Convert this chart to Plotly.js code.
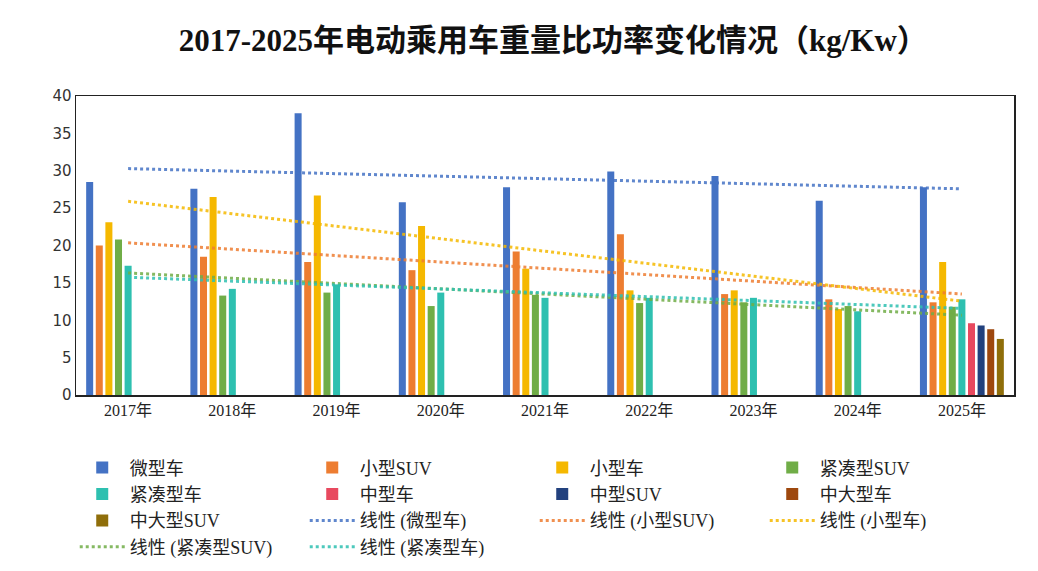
<!DOCTYPE html>
<html>
<head>
<meta charset="utf-8">
<script src="https://cdn.plot.ly/plotly-3.0.1.min.js"></script>
<style>
  html, body { margin: 0; padding: 0; background: #fff; }
  #chart { width: 1038px; height: 571px; }
</style>
</head>
<body>
<div id="chart"></div>
<script>
// Years on the category axis
const years = ['2017年', '2018年', '2019年', '2020年', '2021年', '2022年', '2023年', '2024年', '2025年'];

// Weight-to-power ratio (kg/Kw) per vehicle class; null = no data for that year
const weiXing      = [28.5, 27.6, 37.7, 25.8, 27.8, 29.9, 29.3, 26.0, 27.8];   // 微型车
const xiaoSUV      = [20.0, 18.5, 17.8, 16.7, 19.2, 21.5, 13.5, 12.8, 12.4];   // 小型SUV
const xiaoXing     = [23.1, 26.5, 26.7, 22.6, 16.9, 14.0, 14.0, 11.5, 17.8];   // 小型车
const jinCouSUV    = [20.8, 13.3, 13.7, 11.9, 13.4, 12.3, 12.4, 11.9, 11.8];   // 紧凑型SUV
const jinCou       = [17.3, 14.2, 14.8, 13.7, 13.0, 13.0, 13.0, 11.2, 12.8];   // 紧凑型车
const zhongXing    = [null, null, null, null, null, null, null, null, 9.6];    // 中型车
const zhongSUV     = [null, null, null, null, null, null, null, null, 9.3];    // 中型SUV
const zhongDa      = [null, null, null, null, null, null, null, null, 8.8];    // 中大型车
const zhongDaSUV   = [null, null, null, null, null, null, null, null, 7.5];    // 中大型SUV

const seriesNames = ['微型车', '小型SUV', '小型车', '紧凑型SUV', '紧凑型车', '中型车', '中型SUV', '中大型车', '中大型SUV'];
const seriesData  = [weiXing, xiaoSUV, xiaoXing, jinCouSUV, jinCou, zhongXing, zhongSUV, zhongDa, zhongDaSUV];
const colors = ['#4472C4', '#ED7D31', '#F5B800', '#70AD47', '#2EC0B0', '#E8495F', '#22417E', '#9E480E', '#8F6E0A'];

// Series that carry a linear trendline (index into seriesData)
const trendSeries = [0, 1, 2, 3, 4];

const serif = '"Liberation Serif", "Noto Sans CJK SC", serif';

// Least-squares line over the category index 1..n
function linearFit(values) {
  const pts = values.map((v, i) => [i + 1, v]).filter(p => p[1] !== null);
  const n = pts.length;
  const mx = pts.reduce((s, p) => s + p[0], 0) / n;
  const my = pts.reduce((s, p) => s + p[1], 0) / n;
  let sxy = 0, sxx = 0;
  pts.forEach(p => { sxy += (p[0] - mx) * (p[1] - my); sxx += (p[0] - mx) * (p[0] - mx); });
  const slope = sxy / sxx;
  return values.map((_, i) => my + slope * (i + 1 - mx));
}

const traces = [];
seriesNames.forEach((name, i) => {
  traces.push({
    type: 'bar',
    name: name,
    x: years,
    y: seriesData[i],
    marker: { color: colors[i] },
    hoverinfo: 'x+y+name'
  });
});
trendSeries.forEach(i => {
  traces.push({
    type: 'scatter',
    mode: 'lines',
    name: '线性 (' + seriesNames[i] + ')',
    x: years,
    y: linearFit(seriesData[i]),
    line: { color: colors[i], width: 3, dash: 'dot' },
    opacity: 0.85
  });
});

const layout = {
  width: 1038,
  height: 571,
  paper_bgcolor: '#ffffff',
  plot_bgcolor: '#ffffff',
  margin: { l: 76, r: 24, t: 96, b: 176, autoexpand: false },
  title: {
    text: '<b>2017-2025年电动乘用车重量比功率变化情况（kg/Kw）</b>',
    font: { family: serif, size: 31, color: '#111' },
    x: 0.533,
    xanchor: 'center',
    y: 0.93,
    yanchor: 'middle'
  },
  barmode: 'group',
  bargap: 0.17,
  bargroupgap: 0.27,
  xaxis: {
    type: 'category',
    showgrid: false,
    zeroline: false,
    showline: true,
    linecolor: '#222',
    linewidth: 1.5,
    mirror: true,
    ticks: '',
    tickfont: { family: serif, size: 16, color: '#222' },
    fixedrange: true
  },
  yaxis: {
    range: [0, 40],
    dtick: 5,
    showgrid: false,
    zeroline: false,
    showline: true,
    linecolor: '#222',
    linewidth: 1.5,
    mirror: true,
    ticks: '',
    ticklen: 0,
    tickfont: { family: '"DejaVu Sans", sans-serif', size: 15, color: '#333' },
    fixedrange: true
  },
  legend: {
    orientation: 'h',
    xref: 'container',
    yref: 'container',
    x: 0.072,
    xanchor: 'left',
    y: 0.213,
    yanchor: 'top',
    entrywidth: 170,
    entrywidthmode: 'pixels',
    itemwidth: 45,
    traceorder: 'normal',
    font: { family: serif, size: 18, color: '#222' },
    bgcolor: 'rgba(0,0,0,0)'
  },
  showlegend: true
};

Plotly.newPlot('chart', traces, layout, { displayModeBar: false, staticPlot: true });
</script>
</body>
</html>
